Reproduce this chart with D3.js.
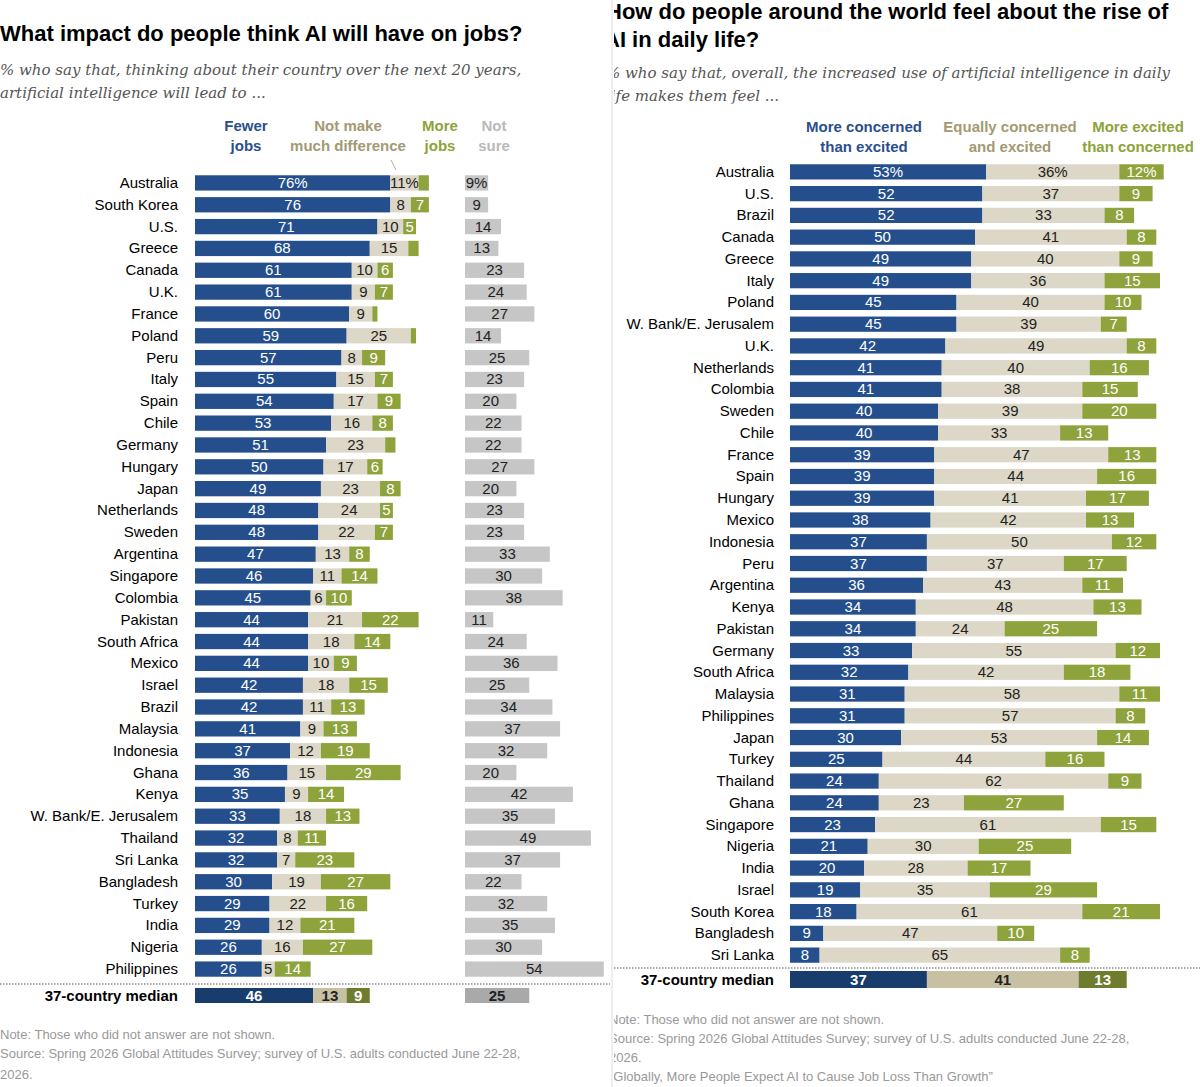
<!DOCTYPE html><html><head><meta charset="utf-8">
<script src="https://cdn.jsdelivr.net/npm/d3@7"></script>
<style>body{margin:0;background:#fff}</style></head><body>
<svg id="c" width="1200" height="1087"></svg>
<script>
const leftCountries=["Australia","South Korea","U.S.","Greece","Canada","U.K.","France","Poland","Peru","Italy","Spain","Chile","Germany","Hungary","Japan","Netherlands","Sweden","Argentina","Singapore","Colombia","Pakistan","South Africa","Mexico","Israel","Brazil","Malaysia","Indonesia","Ghana","Kenya","W. Bank/E. Jerusalem","Thailand","Sri Lanka","Bangladesh","Turkey","India","Nigeria","Philippines"];
const fewerJobs=[76,76,71,68,61,61,60,59,57,55,54,53,51,50,49,48,48,47,46,45,44,44,44,42,42,41,37,36,35,33,32,32,30,29,29,26,26];
const noDifference=[11,8,10,15,10,9,9,25,8,15,17,16,23,17,23,24,22,13,11,6,21,18,10,18,11,9,12,15,9,18,8,7,19,22,12,16,5];
const moreJobs=[4,7,5,4,6,7,2,2,9,7,9,8,4,6,8,5,7,8,14,10,22,14,9,15,13,13,19,29,14,13,11,23,27,16,21,27,14];
const notSure=[9,9,14,13,23,24,27,14,25,23,20,22,22,27,20,23,23,33,30,38,11,24,36,25,34,37,32,20,42,35,49,37,22,32,35,30,54];
const leftMedian=[46,13,9,25];
const rightCountries=["Australia","U.S.","Brazil","Canada","Greece","Italy","Poland","W. Bank/E. Jerusalem","U.K.","Netherlands","Colombia","Sweden","Chile","France","Spain","Hungary","Mexico","Indonesia","Peru","Argentina","Kenya","Pakistan","Germany","South Africa","Malaysia","Philippines","Japan","Turkey","Thailand","Ghana","Singapore","Nigeria","India","Israel","South Korea","Bangladesh","Sri Lanka"];
const moreConcerned=[53,52,52,50,49,49,45,45,42,41,41,40,40,39,39,39,38,37,37,36,34,34,33,32,31,31,30,25,24,24,23,21,20,19,18,9,8];
const equally=[36,37,33,41,40,36,40,39,49,40,38,39,33,47,44,41,42,50,37,43,48,24,55,42,58,57,53,44,62,23,61,30,28,35,61,47,65];
const moreExcited=[12,9,8,8,9,15,10,7,8,16,15,20,13,13,16,17,13,12,17,11,13,25,12,18,11,8,14,16,9,27,15,25,17,29,21,10,8];
const rightMedian=[37,41,13];

const svg=d3.select("#c");
const F="'Liberation Sans', Arial, sans-serif";
const C={blue:"#244f8c",beige:"#dcd7c6",green:"#8fa33c",gray:"#c6c6c6"};
const CM={blue:"#183c6c",beige:"#c8c0a2",green:"#6d7c2d",gray:"#a9a9a9"};

// LEFT
const L=svg.append("g");
L.append("text").attr("x",0).attr("y",41).attr("font-family",F).attr("font-weight","bold").attr("font-size",22).text("What impact do people think AI will have on jobs?");
[["% who say that, thinking about their country over the next 20 years,",75],["artificial intelligence will lead to ...",98]].forEach(([t,y])=>
L.append("text").attr("x",0).attr("y",y).attr("font-family","'DejaVu Serif',serif").attr("font-style","italic").attr("font-size",15).attr("fill","#555").text(t));
const xl=d3.scaleLinear().domain([0,100]).range([0,257]);
const yl=d3.scaleBand().domain(leftCountries).range([172,980]).paddingInner(0.3).paddingOuter(0.15);
const x0=195,xns=465;
function hdr(g,lines,x,y,col){lines.forEach((t,i)=>g.append("text").attr("x",x).attr("y",y+i*20).attr("text-anchor","middle").attr("font-family",F).attr("font-weight","bold").attr("font-size",15).attr("fill",col).text(t));}
hdr(L,["Fewer","jobs"],246,131,"#2a4f8c");
hdr(L,["Not make","much difference"],348,131,"#a39a72");
hdr(L,["More","jobs"],440,131,"#8da33a");
hdr(L,["Not","sure"],494,131,"#b9b9b9");
L.append("line").attr("x1",391).attr("y1",160).attr("x2",396).attr("y2",170).attr("stroke","#999").attr("stroke-width",0.8);
function rowL(g,name,vals,y,h,cols,med){
  g.append("text").attr("x",178).attr("y",y+h/2+5).attr("text-anchor","end").attr("font-family",F).attr("font-size",15).attr("font-weight",med?"bold":null).text(name);
  let acc=0;const fc=[cols.blue,cols.beige,cols.green];
  [0,1,2].forEach(k=>{const v=vals[k];const xs=x0+xl(acc);
    g.append("rect").attr("x",xs).attr("y",y).attr("width",xl(v)).attr("height",h).attr("fill",fc[k]);
    if(v>=5||k==0){g.append("text").attr("x",xs+xl(v)/2).attr("y",y+h/2+5).attr("text-anchor","middle").attr("font-family",F).attr("font-size",15).attr("font-weight",med?"bold":null).attr("fill",k==0?"#fff":(k==2&&!med?"#fff":(k==2?"#fff":"#222"))).text(v+(name=="Australia"&&k<2?"%":""));}
    acc+=v;});
  g.append("rect").attr("x",xns).attr("y",y).attr("width",xl(vals[3])).attr("height",h).attr("fill",cols.gray);
  g.append("text").attr("x",xns+xl(vals[3])/2).attr("y",y+h/2+5).attr("text-anchor","middle").attr("font-family",F).attr("font-size",15).attr("font-weight",med?"bold":null).attr("fill","#222").text(vals[3]+(name=="Australia"?"%":""));
}
leftCountries.forEach((c,i)=>rowL(L,c,[fewerJobs[i],noDifference[i],moreJobs[i],notSure[i]],yl(c),yl.bandwidth(),C,false));
L.append("line").attr("x1",0).attr("x2",610).attr("y1",984).attr("y2",984).attr("stroke","#555").attr("stroke-dasharray","1.5,1.5");
rowL(L,"37-country median",leftMedian,988,15,CM,true);
[["Note: Those who did not answer are not shown.",1039],["Source: Spring 2026 Global Attitudes Survey; survey of U.S. adults conducted June 22-28,",1058],["2026.",1079]].forEach(([t,y])=>
L.append("text").attr("x",0).attr("y",y).attr("font-family",F).attr("font-size",13).attr("fill","#999").text(t));

// divider
svg.append("line").attr("x1",612).attr("x2",612).attr("y1",0).attr("y2",1087).attr("stroke","#ddd");

// RIGHT
svg.append("clipPath").attr("id","rc").append("rect").attr("x",614).attr("y",0).attr("width",586).attr("height",1087);
const R=svg.append("g").attr("clip-path","url(#rc)");
R.append("text").attr("x",606).attr("y",19).attr("font-family",F).attr("font-weight","bold").attr("font-size",22).text("How do people around the world feel about the rise of");
R.append("text").attr("x",604).attr("y",47).attr("font-family",F).attr("font-weight","bold").attr("font-size",22).text("AI in daily life?");
[["% who say that, overall, the increased use of artificial intelligence in daily",78],["life makes them feel ...",101]].forEach(([t,y])=>
R.append("text").attr("x",606).attr("y",y).attr("font-family","'DejaVu Serif',serif").attr("font-style","italic").attr("font-size",15).attr("fill","#555").text(t));
hdr(R,["More concerned","than excited"],864,132,"#2a4f8c");
hdr(R,["Equally concerned","and excited"],1010,132,"#a39a72");
hdr(R,["More excited","than concerned"],1138,132,"#8da33a");
const xr=d3.scaleLinear().domain([0,100]).range([0,370]);
const yr=d3.scaleBand().domain(rightCountries).range([161,966]).paddingInner(0.3).paddingOuter(0.15);
const xr0=790;
function rowR(name,vals,y,h,cols,med){
  R.append("text").attr("x",774).attr("y",y+h/2+5).attr("text-anchor","end").attr("font-family",F).attr("font-size",15).attr("font-weight",med?"bold":null).text(name);
  let acc=0;const fc=[cols.blue,cols.beige,cols.green];
  [0,1,2].forEach(k=>{const v=vals[k];const xs=xr0+xr(acc);
    R.append("rect").attr("x",xs).attr("y",y).attr("width",xr(v)).attr("height",h).attr("fill",fc[k]);
    R.append("text").attr("x",xs+xr(v)/2).attr("y",y+h/2+5).attr("text-anchor","middle").attr("font-family",F).attr("font-size",15).attr("font-weight",med?"bold":null).attr("fill",k==1?"#222":"#fff").text(v+(name=="Australia"?"%":""));
    acc+=v;});
}
rightCountries.forEach((c,i)=>rowR(c,[moreConcerned[i],equally[i],moreExcited[i]],yr(c),yr.bandwidth(),C,false));
R.append("line").attr("x1",614).attr("x2",1200).attr("y1",968).attr("y2",968).attr("stroke","#555").attr("stroke-dasharray","1.5,1.5");
rowR("37-country median",rightMedian,971,17,CM,true);
[["Note: Those who did not answer are not shown.",1024],["Source: Spring 2026 Global Attitudes Survey; survey of U.S. adults conducted June 22-28,",1043],["2026.",1062],["\u201cGlobally, More People Expect AI to Cause Job Loss Than Growth\u201d",1081]].forEach(([t,y])=>
R.append("text").attr("x",609).attr("y",y).attr("font-family",F).attr("font-size",13).attr("fill","#999").text(t));
</script></body></html>
